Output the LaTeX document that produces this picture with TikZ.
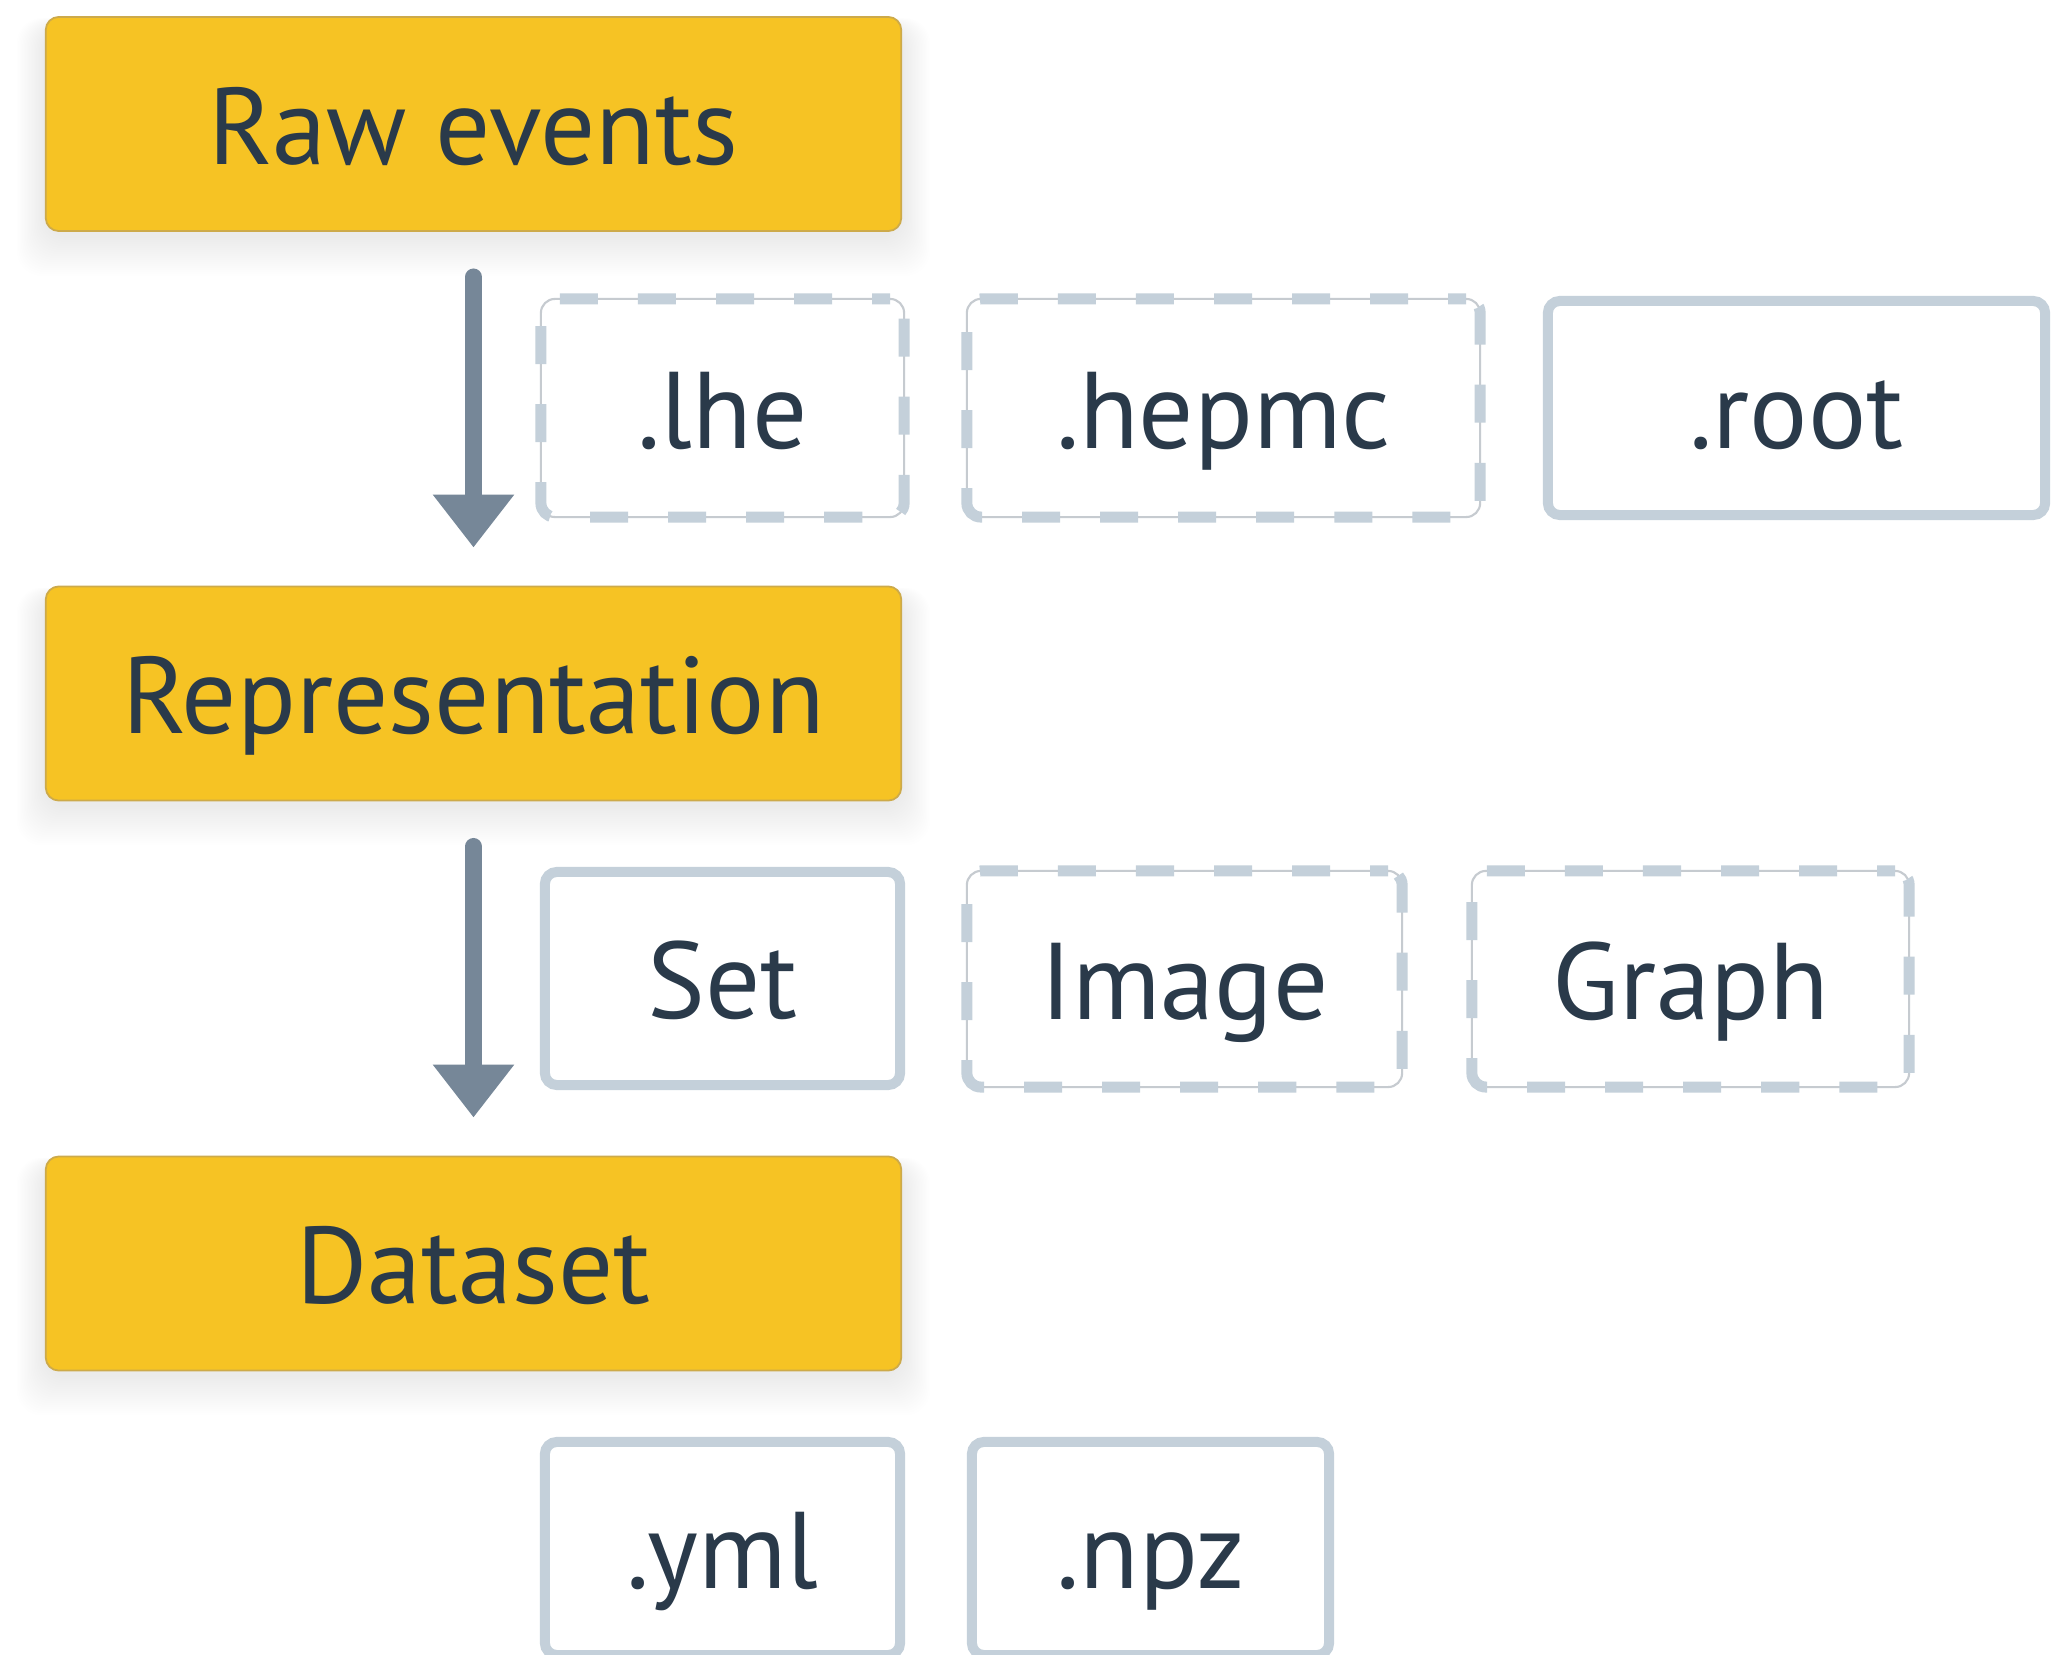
\documentclass[tikz,border=0pt]{standalone}
\usepackage{fontspec}
\setmainfont{PT Sans}
\usetikzlibrary{arrows.meta}
\definecolor{stagefill}{HTML}{F6C324}
\definecolor{stageedge}{HTML}{CDAA4A}
\definecolor{ink}{HTML}{2A3A4A}
\definecolor{flowgray}{HTML}{768798}
\definecolor{frame}{HTML}{C4D0DA}
\definecolor{hairline}{HTML}{C6CBD0}

\pgfdeclarelayer{paper}
\pgfdeclarelayer{shade}
\pgfsetlayers{paper,shade,main}

\begin{document}
\begin{tikzpicture}[x=0.01cm,y=-0.01cm,
  labelfont/.style={font=\fontsize{31}{37}\selectfont, text=ink,
    text height=1.05cm, text depth=0.25cm},
  stage/.style={labelfont, rounded corners=0.13cm, fill=stagefill,
    draw=stageedge, line width=0.5pt, minimum width=8.55cm,
    minimum height=2.14cm, inner sep=0pt},
  solidfmt/.style={labelfont, rounded corners=0.12cm, fill=white,
    draw=frame, line width=0.1cm, inner sep=0pt},
  dashfmt/.style={labelfont, rounded corners=0.14cm, fill=white,
    draw=hairline, line width=0.6pt, inner sep=0pt,
    postaction={draw=frame, line width=0.11cm,
      dash pattern=on 0.38cm off 0.40cm, dash phase=0.2cm}},
  flow/.style={draw=flowgray, line width=0.17cm, line cap=round,
    -{Triangle[width=0.78cm,length=0.53cm]}},
]
\clip (0,0) rectangle (2054,1655);
\begin{pgfonlayer}{paper}
  \fill[white] (0,0) rectangle (2054,1655);
\end{pgfonlayer}

% pipeline stages
\node[stage] (raw) at (473.5,124) {Raw events};
\node[stage] (rep) at (473.5,693.5) {Representation};
\node[stage] (data) at (473.5,1263.5) {Dataset};

% soft drop shadow under each stage, built from faint stacked layers
\begin{pgfonlayer}{shade}
  \foreach \n in {raw,rep,data}
    \foreach \k in {1,...,20}
      \fill[black, opacity=0.0055, rounded corners=0.25cm]
        ([xshift=-\k*0.014cm, yshift=-0.1cm+\k*0.004cm]\n.north west)
        rectangle ([xshift=\k*0.014cm, yshift=-0.04cm-\k*0.02cm]\n.south east);
\end{pgfonlayer}

% stage transitions
\draw[flow, shorten <=0.45cm, shorten >=0.38cm] (raw.south) -- (rep.north);
\draw[flow, shorten <=0.45cm, shorten >=0.38cm] (rep.south) -- (data.north);

% event file formats
\node[dashfmt, minimum width=3.63cm, minimum height=2.18cm] (lhe) at (722.5,408) {.lhe};
\node[dashfmt, minimum width=5.13cm, minimum height=2.18cm] (hepmc) at (1223.5,408) {.hepmc};
\node[solidfmt, minimum width=4.97cm, minimum height=2.14cm] (root) at (1796.5,408) {.root};

% representations
\node[solidfmt, minimum width=3.55cm, minimum height=2.13cm] (set) at (722.5,978.5) {Set};
\node[dashfmt, minimum width=4.35cm, minimum height=2.16cm] (image) at (1184.5,979) {Image};
\node[dashfmt, minimum width=4.37cm, minimum height=2.16cm] (graph) at (1690.5,979) {Graph};

% dataset formats
\node[solidfmt, minimum width=3.55cm, minimum height=2.13cm] (yml) at (722.5,1548.5) {.yml};
\node[solidfmt, minimum width=3.57cm, minimum height=2.13cm] (npz) at (1150.5,1548.5) {.npz};
\end{tikzpicture}
\end{document}
